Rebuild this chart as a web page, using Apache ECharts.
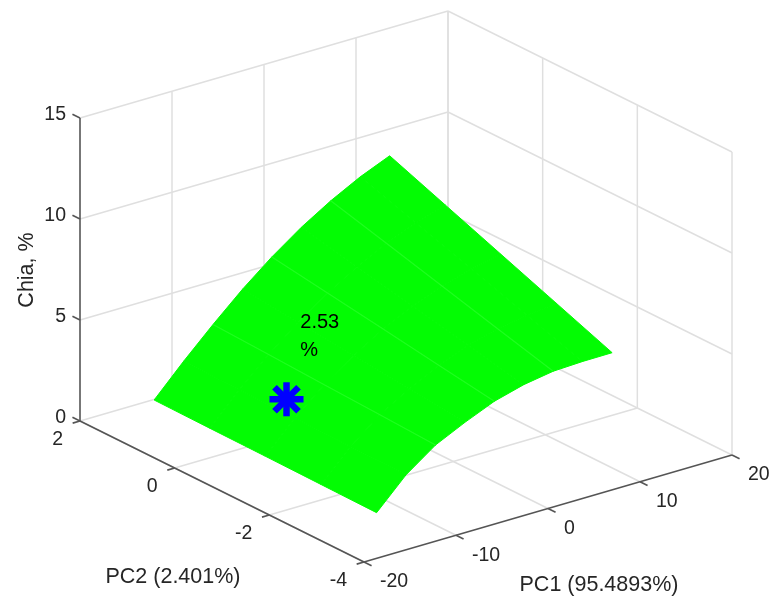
<!DOCTYPE html>
<html><head><meta charset="utf-8">
<script src="https://cdn.jsdelivr.net/npm/echarts@6/dist/echarts.min.js"></script>
<style>html,body{margin:0;padding:0;background:#fff;}#chart{width:769px;height:597px;}</style>
</head><body><div id="chart"></div>
<script>
// ---------------- data ----------------
const pc1Ticks = [-20, -10, 0, 10, 20];
const pc2Ticks = [-4, -2, 0, 2];
const zTicks = [0, 5, 10, 15];
const pc1Grid = [-14, -10.8, -7.6, -4.4, -1.2, 2.0, 5.2, 8.4, 11.6];
const pc2Grid = [-3.1, -1.925, -0.75, 0.425, 1.6];
const chiaRow0 = [0.60, 2.05, 3.10, 3.80, 4.42, 4.82, 5.06, 5.12, 5.13];
const chiaRow1 = [0.63, 2.09, 3.23, 4.08, 4.84, 5.40, 5.80, 6.04, 6.20];
const chiaRow2 = [0.66, 2.13, 3.35, 4.36, 5.26, 5.98, 6.55, 6.96, 7.27];
const chiaRow3 = [0.68, 2.16, 3.48, 4.64, 5.68, 6.56, 7.29, 7.87, 8.34];
const chiaRow4 = [0.71, 2.20, 3.60, 4.92, 6.10, 7.14, 8.03, 8.79, 9.41];
const markerPoint = [-9.9, -0.4, 2.53];
const markerUnit = '%';
const axisNames = ['PC1 (95.4893%)', 'PC2 (2.401%)', 'Chia, %'];

// ---------------- 3D view (layout) ----------------
const chiaRows = [chiaRow0, chiaRow1, chiaRow2, chiaRow3, chiaRow4];
const R1 = [pc1Ticks[0], pc1Ticks[pc1Ticks.length - 1]];
const R2 = [pc2Ticks[0], pc2Ticks[pc2Ticks.length - 1]];
const R3 = [zTicks[0], zTicks[zTicks.length - 1]];
const FRONT = [364, 562];      // screen of (pc1 min, pc2 min, z min)
const VX = [368, -107];        // screen span of full pc1 range
const VY = [-284, -141];       // screen span of full pc2 range
const VZ = [0, -303];          // screen span of full z range
function proj(a, b, c) {
  const u = (a - R1[0]) / (R1[1] - R1[0]);
  const v = (b - R2[0]) / (R2[1] - R2[0]);
  const w = (c - R3[0]) / (R3[1] - R3[0]);
  return [FRONT[0] + u * VX[0] + v * VY[0] + w * VZ[0],
          FRONT[1] + u * VX[1] + v * VY[1] + w * VZ[1]];
}

const FONT = '"Liberation Sans", Arial, Helvetica, sans-serif';
const TXT = '#262626';

// grid lines on back planes
const gridSegs = [];
pc1Ticks.forEach(t => {
  if (t !== R1[0]) gridSegs.push([t, R2[1], R3[0], t, R2[1], R3[1]]);
  gridSegs.push([t, R2[0], R3[0], t, R2[1], R3[0]]);
});
pc2Ticks.forEach(t => {
  gridSegs.push([R1[1], t, R3[0], R1[1], t, R3[1]]);
  if (t !== R2[0]) gridSegs.push([R1[0], t, R3[0], R1[1], t, R3[0]]);
});
zTicks.forEach(t => {
  if (t === R3[0]) return;
  gridSegs.push([R1[0], R2[1], t, R1[1], R2[1], t]);
  gridSegs.push([R1[1], R2[0], t, R1[1], R2[1], t]);
});

// axis lines + ticks
const axisSegs = [
  [R1[0], R2[0], R3[0], R1[1], R2[0], R3[0]],
  [R1[0], R2[0], R3[0], R1[0], R2[1], R3[0]],
  [R1[0], R2[1], R3[0], R1[0], R2[1], R3[1]]
];
const tk1 = 0.16 * (R2[1] - R2[0]) / 6, tk2 = 0.8 * (R1[1] - R1[0]) / 40;
pc1Ticks.forEach(t => axisSegs.push([t, R2[0], R3[0], t, R2[0] - tk1, R3[0]]));
pc2Ticks.forEach(t => axisSegs.push([R1[0], t, R3[0], R1[0] - tk2, t, R3[0]]));
zTicks.forEach(t => axisSegs.push([R1[0], R2[1], t, R1[0], R2[1] + tk1, t]));

// tick labels
const tickLabels = [];
pc1Ticks.forEach(t => tickLabels.push({p: [t, R2[0], R3[0]], d: [16, 20], align: 'left', text: String(t)}));
pc2Ticks.forEach(t => tickLabels.push({p: [R1[0], t, R3[0]], d: [-17, 19], align: 'right', text: String(t)}));
zTicks.forEach(t => tickLabels.push({p: [R1[0], R2[1], t], d: [-14, -3], align: 'right', text: String(t)}));

// surface quads (far to near)
const quads = [];
for (let i = pc2Grid.length - 2; i >= 0; i--)
  for (let j = pc1Grid.length - 2; j >= 0; j--) quads.push([j, i]);
const stripCols = [2, 4, 6];

function seg(api, stroke, lw) {
  const P = api.coord(proj(api.value(0), api.value(1), api.value(2)));
  const Q = api.coord(proj(api.value(3), api.value(4), api.value(5)));
  return {type: 'line', shape: {x1: P[0], y1: P[1], x2: Q[0], y2: Q[1]},
          style: {stroke: stroke, lineWidth: lw}};
}

const chart = echarts.init(document.getElementById('chart'));
chart.setOption({
  animation: false,
  backgroundColor: '#fff',
  grid: {left: 0, right: 0, top: 0, bottom: 0},
  xAxis: {type: 'value', min: 0, max: 769, show: false},
  yAxis: {type: 'value', min: 0, max: 597, inverse: true, show: false},
  series: [
    {type: 'custom', coordinateSystem: 'cartesian2d', data: gridSegs, silent: true, clip: false,
     renderItem: (p, api) => seg(api, '#dfdfdf', 1.5)},
    {type: 'custom', coordinateSystem: 'cartesian2d', data: axisSegs, silent: true, clip: false,
     renderItem: (p, api) => seg(api, '#555555', 1.6)},
    {type: 'custom', coordinateSystem: 'cartesian2d', data: quads, silent: true, clip: false,
     renderItem: (p, api) => {
       const j = api.value(0), i = api.value(1);
       const pts = [[j, i], [j + 1, i], [j + 1, i + 1], [j, i + 1]].map(([jj, ii]) =>
         api.coord(proj(pc1Grid[jj], pc2Grid[ii], chiaRows[ii][jj])));
       return {type: 'polygon', shape: {points: pts},
               style: {fill: '#03fc03', stroke: '#03fc03', lineWidth: 1}};
     }},
    {type: 'custom', coordinateSystem: 'cartesian2d', data: stripCols.map(c => [c]), silent: true, clip: false,
     renderItem: (p, api) => {
       const j = api.value(0);
       const pts = pc2Grid.map((b, ii) => api.coord(proj(pc1Grid[j], b, chiaRows[ii][j])));
       return {type: 'polyline', shape: {points: pts},
               style: {stroke: '#1eff1e', lineWidth: 1.2, fill: null}};
     }},
    {type: 'custom', coordinateSystem: 'cartesian2d', data: [markerPoint], silent: true, clip: false,
     renderItem: (p, api) => {
       const a = api.value(0), b = api.value(1), c = api.value(2);
       const C = api.coord(proj(a, b, c));
       const T = api.coord(proj(a + 1.5, b, c + 2.9));
       const r = 17, children = [];
       [0, 45, 90, 135].forEach(deg => {
         const t = deg * Math.PI / 180;
         children.push({type: 'line', shape: {x1: C[0] - r * Math.cos(t), y1: C[1] - r * Math.sin(t),
                         x2: C[0] + r * Math.cos(t), y2: C[1] + r * Math.sin(t)},
                        style: {stroke: '#0000ff', lineWidth: 6.5}});
       });
       children.push({type: 'text', x: T[0], y: T[1],
         style: {text: c + '\n' + markerUnit, fill: '#000', fontSize: 20, fontFamily: FONT,
                 lineHeight: 28, align: 'left', verticalAlign: 'middle'}});
       return {type: 'group', children: children};
     }},
    {type: 'custom', coordinateSystem: 'cartesian2d', data: tickLabels.map((t, k) => [k]), silent: true, clip: false,
     renderItem: (p, api) => {
       const L = tickLabels[p.dataIndex];
       const P = api.coord(proj(L.p[0], L.p[1], L.p[2]));
       return {type: 'text', x: P[0] + L.d[0], y: P[1] + L.d[1],
               style: {text: L.text, fill: TXT, fontSize: 19.5, fontFamily: FONT,
                       align: L.align, verticalAlign: 'middle'}};
     }}
  ],
  graphic: [
    {type: 'text', x: 599, y: 585, style: {text: axisNames[0], fill: TXT, fontSize: 21.5, fontFamily: FONT, align: 'center', verticalAlign: 'middle'}},
    {type: 'text', x: 173, y: 577, style: {text: axisNames[1], fill: TXT, fontSize: 21.5, fontFamily: FONT, align: 'center', verticalAlign: 'middle'}},
    {type: 'text', x: 27, y: 270, rotation: Math.PI / 2, style: {text: axisNames[2], fill: TXT, fontSize: 21.5, fontFamily: FONT, align: 'center', verticalAlign: 'middle'}}
  ]
});
</script></body></html>
